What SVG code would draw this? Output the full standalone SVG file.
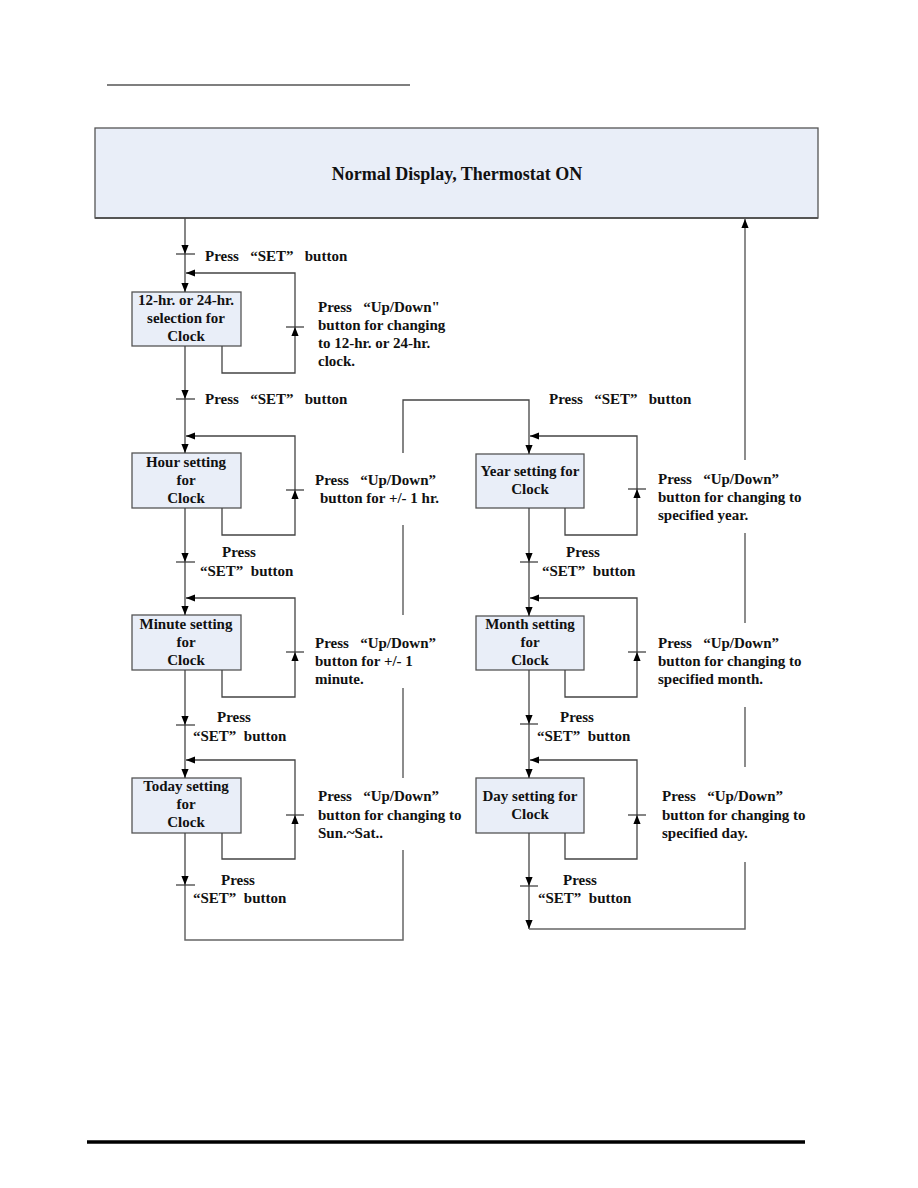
<svg xmlns="http://www.w3.org/2000/svg" width="918" height="1188" viewBox="0 0 918 1188">
<defs>
<marker id="ah" viewBox="0 0 10 8" refX="10" refY="4" markerWidth="9" markerHeight="8" markerUnits="userSpaceOnUse" orient="auto">
<path d="M0,0 L10,4 L0,8 z" fill="#000"/>
</marker>
</defs>
<style>
.box{fill:#e9eef8;stroke:#555;stroke-width:1.3}
.ln{fill:none;stroke:#444;stroke-width:1.3}
.rt{fill:none;stroke:#666;stroke-width:1.5}
.tk{stroke:#333;stroke-width:1.2}
text{font-family:"Liberation Serif","Times New Roman",serif;font-weight:bold;font-size:15px;fill:#111;white-space:pre}
.c{text-anchor:middle}
.h{font-size:18px}
</style>
<rect width="918" height="1188" fill="#fff"/>
<line x1="107" y1="85" x2="410" y2="85" stroke="#000" stroke-width="1.2"/>
<line x1="87" y1="1142" x2="805" y2="1142" stroke="#000" stroke-width="3.5"/>

<g id="header">
<rect x="95" y="128" width="723" height="90" class="box"/>
<line x1="95" y1="218" x2="818" y2="218" stroke="#555" stroke-width="2"/>
<text x="457" y="180" class="c h">Normal Display, Thermostat ON</text>
</g>

<g id="n-1224">
<rect x="132" y="292" width="109" height="54" class="box"/>
<text x="186" y="305" class="c">12-hr. or 24-hr.</text>
<text x="186" y="323" class="c">selection for</text>
<text x="186" y="341" class="c">Clock</text>
</g>
<g id="n-hour">
<rect x="132" y="453" width="109" height="55" class="box"/>
<text x="186" y="467" class="c">Hour setting</text>
<text x="186" y="485" class="c">for</text>
<text x="186" y="503" class="c">Clock</text>
</g>
<g id="n-minute">
<rect x="132" y="615" width="109" height="55" class="box"/>
<text x="186" y="629" class="c">Minute setting</text>
<text x="186" y="647" class="c">for</text>
<text x="186" y="665" class="c">Clock</text>
</g>
<g id="n-today">
<rect x="132" y="778" width="109" height="55" class="box"/>
<text x="186" y="791" class="c">Today setting</text>
<text x="186" y="809" class="c">for</text>
<text x="186" y="827" class="c">Clock</text>
</g>
<g id="n-year">
<rect x="476" y="454" width="108" height="54" class="box"/>
<text x="530" y="476" class="c">Year setting for</text>
<text x="530" y="494" class="c">Clock</text>
</g>
<g id="n-month">
<rect x="476" y="616" width="108" height="54" class="box"/>
<text x="530" y="629" class="c">Month setting</text>
<text x="530" y="647" class="c">for</text>
<text x="530" y="665" class="c">Clock</text>
</g>
<g id="n-day">
<rect x="476" y="778" width="108" height="55" class="box"/>
<text x="530" y="801" class="c">Day setting for</text>
<text x="530" y="819" class="c">Clock</text>
</g>

<g id="connectors">
<path class="ln" d="M185,218 V254" marker-end="url(#ah)"/>
<path class="ln" d="M185,254 V292" marker-end="url(#ah)"/>
<path class="ln" d="M185,346 V399" marker-end="url(#ah)"/>
<path class="ln" d="M185,399 V453" marker-end="url(#ah)"/>
<path class="ln" d="M185,508 V562" marker-end="url(#ah)"/>
<path class="ln" d="M185,562 V615" marker-end="url(#ah)"/>
<path class="ln" d="M185,670 V725" marker-end="url(#ah)"/>
<path class="ln" d="M185,725 V778" marker-end="url(#ah)"/>
<path class="ln" d="M185,833 V885" marker-end="url(#ah)"/>
<path class="rt" d="M185,885 V940 H403 V850"/>
<path class="rt" d="M403,778 V688"/>
<path class="rt" d="M403,615 V525"/>
<path class="ln" d="M403,453 V400 H529 V454" marker-end="url(#ah)"/>
<path class="ln" d="M222,346 V373 H295 V327" marker-end="url(#ah)"/>
<path class="ln" d="M295,327 V273 H186" marker-end="url(#ah)"/>
<path class="ln" d="M222,508 V535 H295 V490" marker-end="url(#ah)"/>
<path class="ln" d="M295,490 V436 H186" marker-end="url(#ah)"/>
<path class="ln" d="M222,670 V697 H295 V652" marker-end="url(#ah)"/>
<path class="ln" d="M295,652 V598 H186" marker-end="url(#ah)"/>
<path class="ln" d="M222,833 V859 H295 V815" marker-end="url(#ah)"/>
<path class="ln" d="M295,815 V760 H186" marker-end="url(#ah)"/>
<path class="ln" d="M529,508 V562" marker-end="url(#ah)"/>
<path class="ln" d="M529,562 V616" marker-end="url(#ah)"/>
<path class="ln" d="M529,670 V724" marker-end="url(#ah)"/>
<path class="ln" d="M529,724 V778" marker-end="url(#ah)"/>
<path class="ln" d="M529,833 V886" marker-end="url(#ah)"/>
<path class="ln" d="M529,886 V929" marker-end="url(#ah)"/>
<path class="rt" d="M529,929 H745 V862"/>
<path class="rt" d="M745,767 V707"/>
<path class="rt" d="M745,623 V533"/>
<path class="rt" d="M745,460 V219" marker-end="url(#ah)"/>
<path class="ln" d="M565,508 V535 H637 V489" marker-end="url(#ah)"/>
<path class="ln" d="M637,489 V436 H530" marker-end="url(#ah)"/>
<path class="ln" d="M565,670 V697 H637 V652" marker-end="url(#ah)"/>
<path class="ln" d="M637,652 V598 H530" marker-end="url(#ah)"/>
<path class="ln" d="M565,833 V859 H637 V815" marker-end="url(#ah)"/>
<path class="ln" d="M637,815 V760 H530" marker-end="url(#ah)"/>
<g class="tk">
<line x1="176" y1="254" x2="195" y2="254"/>
<line x1="176" y1="399" x2="195" y2="399"/>
<line x1="176" y1="562" x2="195" y2="562"/>
<line x1="176" y1="725" x2="195" y2="725"/>
<line x1="176" y1="885" x2="195" y2="885"/>
<line x1="286" y1="327" x2="304" y2="327"/>
<line x1="286" y1="490" x2="304" y2="490"/>
<line x1="286" y1="652" x2="304" y2="652"/>
<line x1="286" y1="815" x2="304" y2="815"/>
<line x1="520" y1="562" x2="538" y2="562"/>
<line x1="520" y1="724" x2="538" y2="724"/>
<line x1="520" y1="886" x2="538" y2="886"/>
<line x1="628" y1="489" x2="646" y2="489"/>
<line x1="628" y1="652" x2="646" y2="652"/>
<line x1="628" y1="815" x2="646" y2="815"/>
</g>
<text x="205" y="261">Press   “SET”   button</text>
<text x="318" y="312">Press   “Up/Down"</text>
<text x="318" y="330">button for changing</text>
<text x="318" y="348">to 12-hr. or 24-hr.</text>
<text x="318" y="366">clock.</text>
<text x="205" y="404">Press   “SET”   button</text>
<text x="315" y="485">Press   “Up/Down”</text>
<text x="320" y="503">button for +/- 1 hr.</text>
<text x="222" y="557">Press</text>
<text x="200" y="576">“SET”  button</text>
<text x="315" y="648">Press   “Up/Down”</text>
<text x="315" y="666">button for +/- 1</text>
<text x="315" y="684">minute.</text>
<text x="217" y="722">Press</text>
<text x="193" y="741">“SET”  button</text>
<text x="318" y="801">Press   “Up/Down”</text>
<text x="318" y="820">button for changing to</text>
<text x="318" y="838">Sun.~Sat..</text>
<text x="221" y="885">Press</text>
<text x="193" y="903">“SET”  button</text>
<text x="549" y="404">Press   “SET”   button</text>
<text x="658" y="484">Press   “Up/Down”</text>
<text x="658" y="502">button for changing to</text>
<text x="658" y="520">specified year.</text>
<text x="566" y="557">Press</text>
<text x="542" y="576">“SET”  button</text>
<text x="658" y="648">Press   “Up/Down”</text>
<text x="658" y="666">button for changing to</text>
<text x="658" y="684">specified month.</text>
<text x="560" y="722">Press</text>
<text x="537" y="741">“SET”  button</text>
<text x="662" y="801">Press   “Up/Down”</text>
<text x="662" y="820">button for changing to</text>
<text x="662" y="838">specified day.</text>
<text x="563" y="885">Press</text>
<text x="538" y="903">“SET”  button</text>
</g>
</svg>
